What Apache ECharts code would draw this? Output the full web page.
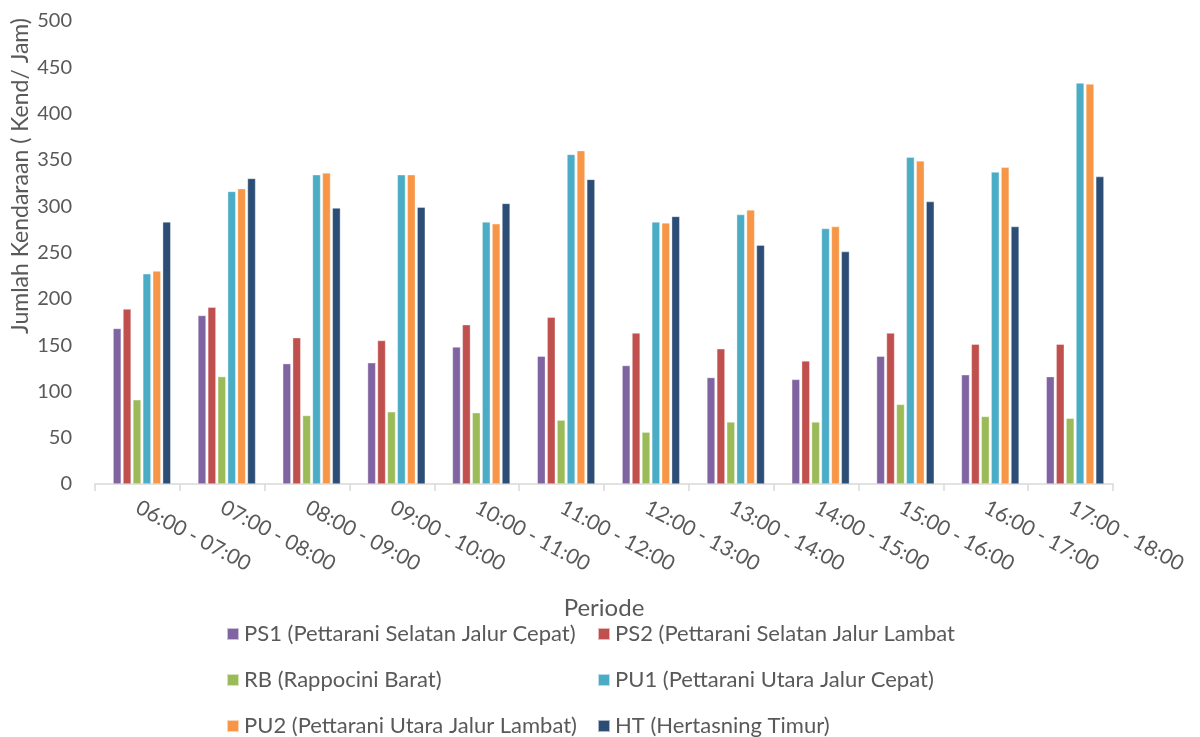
<!DOCTYPE html>
<html>
<head>
<meta charset="utf-8">
<script src="https://cdn.jsdelivr.net/npm/echarts@6/dist/echarts.min.js"></script>
<style>
  html, body { margin: 0; padding: 0; background: #ffffff; }
  #chart { width: 1200px; height: 737px; }
</style>
</head>
<body>
<div id="chart"></div>
<script>
// Hourly traffic volume per approach (vehicles / hour)
const periods = ['06:00 - 07:00', '07:00 - 08:00', '08:00 - 09:00', '09:00 - 10:00',
                 '10:00 - 11:00', '11:00 - 12:00', '12:00 - 13:00', '13:00 - 14:00',
                 '14:00 - 15:00', '15:00 - 16:00', '16:00 - 17:00', '17:00 - 18:00'];

const ps1 = [168, 182, 130, 131, 148, 138, 128, 115, 113, 138, 118, 116];
const ps2 = [189, 191, 158, 155, 172, 180, 163, 146, 133, 163, 151, 151];
const rb  = [91, 116, 74, 78, 77, 69, 56, 67, 67, 86, 73, 71];
const pu1 = [227, 316, 334, 334, 283, 356, 283, 291, 276, 353, 337, 433];
const pu2 = [230, 319, 336, 334, 281, 360, 282, 296, 278, 349, 342, 432];
const ht  = [283, 330, 298, 299, 303, 329, 289, 258, 251, 305, 278, 332];

const seriesNames = [
  'PS1 (Pettarani Selatan Jalur Cepat)',
  'PS2 (Pettarani Selatan Jalur Lambat',
  'RB (Rappocini Barat)',
  'PU1 (Pettarani Utara Jalur Cepat)',
  'PU2 (Pettarani Utara Jalur Lambat)',
  'HT (Hertasning Timur)'
];
const seriesData = [ps1, ps2, rb, pu1, pu2, ht];
const colors = ['#8064A2', '#C0504D', '#9BBB59', '#4BACC6', '#F79646', '#2C4D75'];

const yTitle = 'Jumlah Kendaraan ( Kend/ Jam)';
const xTitle = 'Periode';

const FONT = 'Lato, "Open Sans", sans-serif';
const TEXT = '#595959';

const chart = echarts.init(document.getElementById('chart'), null, { renderer: 'canvas' });

const legendCommon = {
  orient: 'vertical',
  top: 623,
  padding: 0,
  itemGap: 24,
  itemWidth: 12,
  itemHeight: 12,
  icon: 'rect',
  textStyle: { color: TEXT, fontSize: 22, fontFamily: FONT }
};

chart.setOption({
  backgroundColor: '#ffffff',
  animation: false,
  color: colors,
  textStyle: { fontFamily: FONT },
  // grid 0 carries the visible axes, grid 1 holds the bar clusters (nudged right a little)
  grid: [
    { left: 95, right: 87, top: 21, bottom: 253, containLabel: false },
    { left: 99.5, right: 82.5, top: 21, bottom: 253, containLabel: false }
  ],
  legend: [
    Object.assign({ left: 226, data: [seriesNames[0], seriesNames[2], seriesNames[4]] }, legendCommon),
    Object.assign({ left: 597, data: [seriesNames[1], seriesNames[3], seriesNames[5]] }, legendCommon)
  ],
  graphic: [{
    type: 'text',
    x: 21,
    y: 176,
    rotation: Math.PI / 2,
    style: {
      text: yTitle,
      fill: TEXT,
      font: '23px ' + FONT,
      textAlign: 'center',
      textVerticalAlign: 'middle'
    }
  }],
  xAxis: [{
    type: 'category',
    gridIndex: 0,
    data: periods,
    boundaryGap: true,
    name: xTitle,
    nameLocation: 'middle',
    nameGap: 112,
    nameTextStyle: { color: TEXT, fontSize: 24, fontFamily: FONT },
    axisLine: { show: true, lineStyle: { color: '#d9d9d9', width: 1.5 } },
    axisTick: { show: true, length: 7, interval: 0, lineStyle: { color: '#d9d9d9', width: 1.5 } },
    axisLabel: {
      interval: 0,
      rotate: -28,
      margin: 22,
      color: TEXT,
      fontSize: 21,
      fontFamily: FONT
    },
    splitLine: { show: false }
  }, {
    type: 'category',
    gridIndex: 1,
    data: periods,
    boundaryGap: true,
    show: false
  }],
  yAxis: [{
    type: 'value',
    gridIndex: 0,
    min: 0,
    max: 500,
    interval: 50,
    axisLine: { show: false },
    axisTick: { show: false },
    splitLine: { show: false },
    axisLabel: { color: TEXT, fontSize: 20, fontFamily: FONT, margin: 23 }
  }, {
    type: 'value',
    gridIndex: 1,
    min: 0,
    max: 500,
    interval: 50,
    show: false,
    splitLine: { show: false }
  }],
  series: seriesNames.map((name, i) => ({
    name: name,
    type: 'bar',
    xAxisIndex: 1,
    yAxisIndex: 1,
    data: seriesData[i],
    barGap: '22%',
    barCategoryGap: '32%',
    itemStyle: { color: colors[i], borderColor: 'rgba(255,255,255,0.6)', borderWidth: 0.6 }
  }))
});
</script>
</body>
</html>
